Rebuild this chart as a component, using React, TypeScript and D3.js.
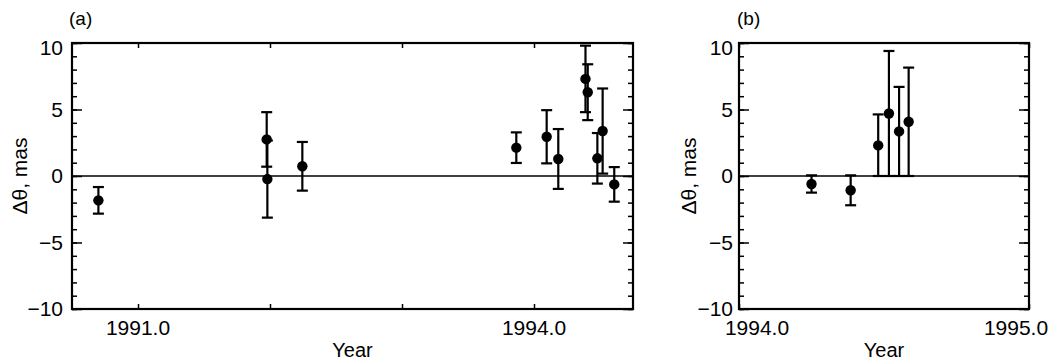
import React, { useRef, useEffect } from 'react';
import * as d3 from 'd3';

// panel (a)
const aYear = [1990.7, 1991.975, 1991.98, 1992.245, 1993.866, 1994.096, 1994.184, 1994.39, 1994.407, 1994.48, 1994.52, 1994.608];
const aValue = [-1.83, 2.75, -0.23, 0.73, 2.13, 2.95, 1.28, 7.3, 6.3, 1.33, 3.38, -0.63];
const aError = [1.0, 2.05, 2.9, 1.83, 1.15, 2.0, 2.25, 2.5, 2.1, 1.9, 3.2, 1.3];
const aXTicks = [1991, 1992, 1993, 1994];
const aXLabels = [1991, 1994];

// panel (b)
const bYear = [1994.25, 1994.385, 1994.48, 1994.517, 1994.552, 1994.585];
const bValue = [-0.6, -1.07, 2.3, 4.7, 3.35, 4.08];
const bLow = [-1.25, -2.2, 0, 0, 0, 0];
const bHigh = [0.05, 0.05, 4.63, 9.4, 6.7, 8.15];
const bXTicks = [1994, 1995];
const bXLabels = [1994, 1995];

const yMajor = [-10, -5, 0, 5, 10];
const yMinor = d3.range(-10, 11, 1);

const FONT = '"Liberation Sans", Arial, Helvetica, sans-serif';

const App = () => {
  const svgRef = useRef(null);

  useEffect(() => {
    const svg = d3.select(svgRef.current);
    svg.selectAll('*').remove();

    const top = 43;
    const bottom = 309;
    const y = d3.scaleLinear().domain([-10, 10]).range([bottom, top]);

    const drawPanel = (opts) => {
      const { left, right, domain, years, values, lows, highs, xTicks, xLabels, labelShift, letter, letterX, titleX, labelGap } = opts;
      const x = d3.scaleLinear().domain(domain).range([left, right]);
      const g = svg.append('g');

      // zero line
      g.append('line')
        .attr('x1', left).attr('x2', right)
        .attr('y1', y(0)).attr('y2', y(0))
        .attr('stroke', '#000').attr('stroke-width', 1.3);

      // y ticks, left and right, pointing inward
      [d3.axisLeft, d3.axisRight].forEach((axis, k) => {
        const at = k === 0 ? left : right;
        const minor = g.append('g').attr('transform', `translate(${at},0)`)
          .call(axis(y).tickValues(yMinor).tickSize(-5).tickFormat(() => ''));
        minor.select('.domain').remove();
        const major = g.append('g').attr('transform', `translate(${at},0)`)
          .call(axis(y).tickValues(yMajor).tickSize(-10).tickFormat(() => ''));
        major.select('.domain').remove();
      });

      // y labels
      g.selectAll('.ylab')
        .data(yMajor)
        .enter()
        .append('text')
        .attr('x', left - labelGap)
        .attr('y', d => y(d) + (d === 10 ? 5 : 0))
        .attr('dy', '0.35em')
        .attr('text-anchor', 'end')
        .style('font-family', FONT)
        .style('font-size', '21px')
        .text(d => (d < 0 ? '\u2212' + Math.abs(d) : String(d)));

      // x ticks top and bottom, inward
      const xb = g.append('g').attr('transform', `translate(0,${bottom})`)
        .call(d3.axisBottom(x).tickValues(xTicks).tickSize(-5).tickFormat(() => ''));
      xb.select('.domain').remove();
      const xt = g.append('g').attr('transform', `translate(0,${top})`)
        .call(d3.axisTop(x).tickValues(xTicks).tickSize(-5).tickFormat(() => ''));
      xt.select('.domain').remove();
      g.selectAll('.tick line').attr('stroke', '#000').attr('stroke-width', 1.5);

      g.selectAll('.xlab')
        .data(xLabels)
        .enter()
        .append('text')
        .attr('x', (d, i) => x(d) + labelShift[i])
        .attr('y', 335)
        .attr('text-anchor', 'middle')
        .style('font-family', FONT)
        .style('font-size', '21px')
        .text(d => d.toFixed(1));

      // frame
      g.append('rect')
        .attr('x', left).attr('y', top)
        .attr('width', right - left).attr('height', bottom - top)
        .attr('fill', 'none').attr('stroke', '#000').attr('stroke-width', 2.2);

      // error bars + points
      const cap = 5.5;
      const pts = years.map((yr, i) => ({ yr, v: values[i], lo: lows[i], hi: highs[i] }));
      const eb = g.selectAll('.eb').data(pts).enter().append('g');
      eb.append('line')
        .attr('x1', d => x(d.yr)).attr('x2', d => x(d.yr))
        .attr('y1', d => y(d.lo)).attr('y2', d => y(d.hi))
        .attr('stroke', '#000').attr('stroke-width', 2.2);
      eb.append('line')
        .attr('x1', d => x(d.yr) - cap).attr('x2', d => x(d.yr) + cap)
        .attr('y1', d => y(d.lo)).attr('y2', d => y(d.lo))
        .attr('stroke', '#000').attr('stroke-width', 2.2);
      eb.append('line')
        .attr('x1', d => x(d.yr) - cap).attr('x2', d => x(d.yr) + cap)
        .attr('y1', d => y(d.hi)).attr('y2', d => y(d.hi))
        .attr('stroke', '#000').attr('stroke-width', 2.2);
      eb.append('circle')
        .attr('cx', d => x(d.yr)).attr('cy', d => y(d.v))
        .attr('r', 5.2).attr('fill', '#000');

      // titles
      g.append('text')
        .attr('x', (left + right) / 2)
        .attr('y', 357)
        .attr('text-anchor', 'middle')
        .style('font-family', FONT)
        .style('font-size', '20px')
        .text('Year');

      g.append('text')
        .attr('transform', `translate(${titleX},${(top + bottom) / 2}) rotate(-90)`)
        .attr('text-anchor', 'middle')
        .style('font-family', FONT)
        .style('font-size', '21px')
        .text('\u0394\u03b8, mas');

      g.append('text')
        .attr('x', letterX)
        .attr('y', 25)
        .style('font-family', FONT)
        .style('font-size', '19px')
        .text(letter);
    };

    drawPanel({
      left: 72, right: 633, domain: [1990.5, 1994.75],
      years: aYear, values: aValue,
      lows: aValue.map((v, i) => v - aError[i]),
      highs: aValue.map((v, i) => v + aError[i]),
      xTicks: aXTicks, xLabels: aXLabels, labelShift: [0, 0],
      letter: '(a)', letterX: 69, titleX: 27, labelGap: 9
    });

    drawPanel({
      left: 739, right: 1029, domain: [1994, 1995],
      years: bYear, values: bValue, lows: bLow, highs: bHigh,
      xTicks: bXTicks, xLabels: bXLabels, labelShift: [18, -13],
      letter: '(b)', letterX: 737, titleX: 696, labelGap: 6
    });
  }, []);

  return (
    <svg
      ref={svgRef}
      width={1057}
      height={364}
      style={{ position: 'absolute', left: 0, top: 0, background: '#fff' }}
    ></svg>
  );
};

export default App;
